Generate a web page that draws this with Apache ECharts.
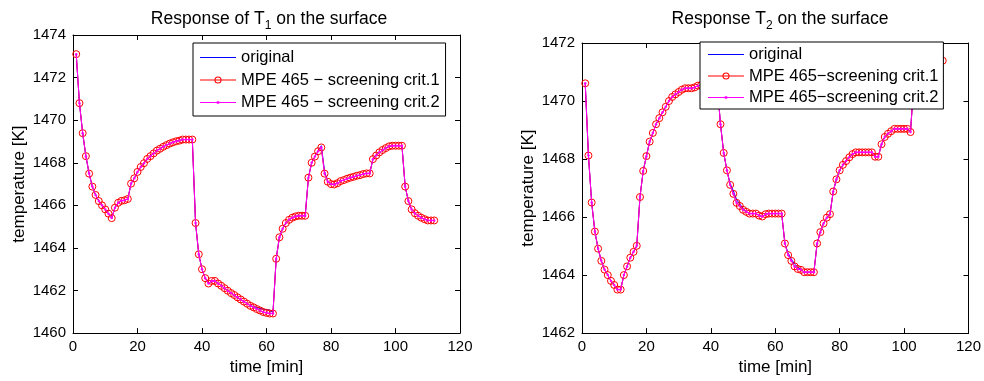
<!DOCTYPE html>
<html>
<head>
<meta charset="utf-8">
<script src="https://cdn.jsdelivr.net/npm/echarts@6/dist/echarts.min.js"></script>
<style>
html,body{margin:0;padding:0;background:#fff;}
#chart{width:984px;height:381px;}
</style>
</head>
<body>
<div id="chart"></div>
<script>
// time [min]
const timeMin = [1,2,3,4,5,6,7,8,9,10,11,12,13,14,15,16,17,18,19,20,21,22,23,24,25,26,27,28,29,30,
31,32,33,34,35,36,37,38,39,40,41,42,43,44,45,46,47,48,49,50,51,52,53,54,55,56,57,58,59,60,
61,62,63,64,65,66,67,68,69,70,71,72,73,74,75,76,77,78,79,80,81,82,83,84,85,86,87,88,89,90,
91,92,93,94,95,96,97,98,99,100,101,102,103,104,105,106,107,108,109,110,111,112];

// Response of T1
const t1Original = [1473.10,1470.80,1469.39,1468.31,1467.49,1466.88,1466.49,1466.20,1466.00,1465.81,1465.61,1465.40,
1465.89,1466.12,1466.21,1466.24,1466.30,1467.02,1467.27,1467.57,1467.80,1467.98,1468.18,1468.31,1468.44,1468.57,
1468.66,1468.75,1468.83,1468.90,1468.96,1469.01,1469.04,1469.09,1469.09,1469.09,1469.09,1465.17,1463.70,1463.00,
1462.58,1462.33,1462.45,1462.45,1462.33,1462.22,1462.11,1461.99,1461.88,1461.79,1461.68,1461.58,1461.48,1461.38,
1461.28,1461.25,1461.20,1461.16,1461.12,1461.10,1461.08,1460.95,1463.49,1464.50,1464.90,1465.17,1465.32,1465.42,
1465.48,1465.51,1465.51,1465.51,1467.30,1468.00,1468.29,1468.54,1468.80,1467.60,1467.11,1467.00,1466.98,1467.04,
1467.14,1467.19,1467.25,1467.30,1467.34,1467.39,1467.42,1467.47,1467.50,1467.50,1468.17,1468.34,1468.49,1468.60,
1468.69,1468.77,1468.80,1468.80,1468.80,1468.80,1466.88,1466.20,1465.81,1465.63,1465.51,1465.42,1465.35,1465.29,
1465.29,1465.29];
const t1Crit1 = [1473.10,1470.80,1469.39,1468.31,1467.49,1466.88,1466.49,1466.20,1466.00,1465.81,1465.61,1465.40,
1465.89,1466.12,1466.21,1466.24,1466.30,1467.02,1467.27,1467.57,1467.80,1467.98,1468.18,1468.31,1468.44,1468.57,
1468.66,1468.75,1468.83,1468.90,1468.96,1469.01,1469.04,1469.09,1469.09,1469.09,1469.09,1465.17,1463.70,1463.00,
1462.58,1462.33,1462.45,1462.45,1462.33,1462.22,1462.11,1461.99,1461.88,1461.79,1461.68,1461.58,1461.48,1461.38,
1461.28,1461.21,1461.13,1461.06,1460.99,1460.95,1460.92,1460.92,1463.49,1464.50,1464.90,1465.17,1465.32,1465.42,
1465.48,1465.51,1465.51,1465.51,1467.30,1468.00,1468.29,1468.54,1468.72,1467.49,1467.11,1467.00,1466.98,1467.04,
1467.14,1467.19,1467.25,1467.30,1467.34,1467.39,1467.42,1467.47,1467.50,1467.50,1468.17,1468.34,1468.49,1468.60,
1468.69,1468.77,1468.80,1468.80,1468.80,1468.80,1466.88,1466.20,1465.81,1465.63,1465.51,1465.42,1465.35,1465.29,
1465.29,1465.29];
const t1Crit2 = [1473.10,1470.80,1469.39,1468.31,1467.49,1466.88,1466.49,1466.20,1466.00,1465.81,1465.61,1465.40,
1465.89,1466.12,1466.21,1466.24,1466.30,1467.02,1467.27,1467.57,1467.80,1467.98,1468.18,1468.31,1468.44,1468.57,
1468.66,1468.75,1468.83,1468.90,1468.96,1469.01,1469.04,1469.09,1469.09,1469.09,1469.09,1465.17,1463.70,1463.00,
1462.58,1462.33,1462.45,1462.45,1462.33,1462.22,1462.11,1461.99,1461.88,1461.79,1461.68,1461.58,1461.48,1461.38,
1461.28,1461.21,1461.13,1461.06,1460.99,1460.95,1460.92,1460.92,1463.49,1464.50,1464.90,1465.17,1465.32,1465.42,
1465.48,1465.51,1465.51,1465.51,1467.30,1468.00,1468.29,1468.54,1468.72,1467.49,1467.11,1467.00,1466.98,1467.04,
1467.14,1467.19,1467.25,1467.30,1467.34,1467.39,1467.42,1467.47,1467.50,1467.50,1468.17,1468.34,1468.49,1468.60,
1468.69,1468.77,1468.80,1468.80,1468.80,1468.80,1466.88,1466.20,1465.81,1465.63,1465.51,1465.42,1465.35,1465.29,
1465.29,1465.29];

// Response T2
const t2Original = [1470.61,1468.12,1466.50,1465.50,1464.91,1464.49,1464.19,1464.00,1463.80,1463.66,1463.50,1463.50,
1464.00,1464.30,1464.60,1464.80,1465.01,1466.69,1467.59,1468.10,1468.60,1468.90,1469.20,1469.41,1469.61,1469.80,
1470.00,1470.14,1470.23,1470.31,1470.39,1470.44,1470.44,1470.44,1470.47,1470.53,1470.55,1470.58,1470.60,1470.60,
1470.60,1470.55,1469.20,1468.21,1467.61,1467.15,1466.90,1466.60,1466.45,1466.30,1466.18,1466.12,1466.12,1466.12,
1466.05,1466.02,1466.10,1466.12,1466.12,1466.12,1466.12,1466.12,1465.09,1464.75,1464.55,1464.38,1464.27,1464.20,
1464.10,1464.10,1464.10,1464.10,1465.09,1465.48,1465.78,1465.98,1466.10,1466.88,1467.30,1467.61,1467.80,1467.93,
1468.06,1468.17,1468.23,1468.23,1468.23,1468.23,1468.23,1468.23,1468.08,1468.08,1468.51,1468.76,1468.87,1468.96,
1469.04,1469.04,1469.04,1469.04,1469.04,1468.93,1470.60,1470.90,1471.05,1471.15,1471.22,1471.28,1471.32,1471.35,
1471.37,1471.39];
const t2Crit1 = [1470.61,1468.12,1466.50,1465.50,1464.91,1464.49,1464.19,1464.00,1463.80,1463.66,1463.50,1463.50,
1464.00,1464.30,1464.60,1464.80,1465.01,1466.69,1467.59,1468.10,1468.60,1468.90,1469.20,1469.41,1469.61,1469.80,
1470.00,1470.14,1470.23,1470.31,1470.39,1470.44,1470.44,1470.44,1470.47,1470.53,1470.55,1470.58,1470.60,1470.60,
1470.60,1470.55,1469.20,1468.21,1467.61,1467.11,1466.80,1466.49,1466.38,1466.25,1466.18,1466.12,1466.12,1466.12,
1466.05,1466.02,1466.10,1466.12,1466.12,1466.12,1466.12,1466.12,1465.09,1464.69,1464.49,1464.30,1464.21,1464.18,
1464.10,1464.10,1464.10,1464.10,1465.09,1465.48,1465.78,1465.98,1466.10,1466.88,1467.30,1467.61,1467.80,1467.93,
1468.06,1468.17,1468.23,1468.23,1468.23,1468.23,1468.23,1468.23,1468.08,1468.08,1468.51,1468.76,1468.87,1468.96,
1469.04,1469.04,1469.04,1469.04,1469.04,1468.93,1470.60,1470.90,1471.05,1471.15,1471.22,1471.28,1471.32,1471.35,
1471.37,1471.39];
const t2Crit2 = [1470.61,1468.12,1466.50,1465.50,1464.91,1464.49,1464.19,1464.00,1463.80,1463.66,1463.50,1463.50,
1464.00,1464.30,1464.60,1464.80,1465.01,1466.69,1467.59,1468.10,1468.60,1468.90,1469.20,1469.41,1469.61,1469.80,
1470.00,1470.14,1470.23,1470.31,1470.39,1470.44,1470.44,1470.44,1470.47,1470.53,1470.55,1470.58,1470.60,1470.60,
1470.60,1470.55,1469.20,1468.21,1467.61,1467.11,1466.80,1466.49,1466.38,1466.25,1466.18,1466.12,1466.12,1466.12,
1466.05,1466.02,1466.10,1466.12,1466.12,1466.12,1466.12,1466.12,1465.09,1464.69,1464.49,1464.30,1464.21,1464.18,
1464.10,1464.10,1464.10,1464.10,1465.09,1465.48,1465.78,1465.98,1466.10,1466.88,1467.30,1467.61,1467.80,1467.93,
1468.06,1468.17,1468.23,1468.23,1468.23,1468.23,1468.23,1468.23,1468.08,1468.08,1468.51,1468.76,1468.87,1468.96,
1469.04,1469.04,1469.04,1469.04,1469.04,1468.93,1470.60,1470.90,1471.05,1471.15,1471.22,1471.28,1471.32,1471.35,
1471.37,1471.39];

const xTicks = {min: 0, max: 120, interval: 20};
const y1Ticks = {min: 1460, max: 1474, interval: 2};
const y2Ticks = {min: 1462, max: 1472, interval: 2};

const names1 = ['original', 'MPE 465 \u2212 screening crit.1', 'MPE 465 \u2212 screening crit.2'];
const names2 = ['original', 'MPE 465\u2212screening crit.1', 'MPE 465\u2212screening crit.2'];

const FONT = 'Liberation Sans, Arial, Helvetica, sans-serif';

function pairs(ys) { return timeMin.map((t, i) => [t, ys[i]]); }

function axesFor(gi, yt) {
  const common = {
    gridIndex: gi, type: 'value', splitLine: {show: false},
    axisLine: {show: true, onZero: false, lineStyle: {color: '#000', width: 1}},
    axisTick: {show: true, inside: true, length: 5, lineStyle: {color: '#000', width: 1}},
  };
  const lbl = {fontFamily: FONT, fontSize: 15, color: '#000', formatter: v => String(v)};
  const xs = [
    Object.assign({}, common, xTicks, {position: 'bottom',
      name: 'time [min]', nameLocation: 'middle', nameGap: 22,
      nameTextStyle: {fontFamily: FONT, fontSize: 17, color: '#000'},
      axisLabel: Object.assign({margin: 6}, lbl)}),
    Object.assign({}, common, xTicks, {position: 'top', axisLabel: {show: false}})
  ];
  const ys = [
    Object.assign({}, common, yt, {position: 'left',
      name: 'temperature [K]', nameLocation: 'middle', nameGap: 45, nameRotate: 90,
      nameTextStyle: {fontFamily: FONT, fontSize: 17, color: '#000'},
      axisLabel: Object.assign({margin: 7}, lbl)}),
    Object.assign({}, common, yt, {position: 'right', axisLabel: {show: false}})
  ];
  return {xs, ys};
}

const a1 = axesFor(0, y1Ticks);
const a2 = axesFor(1, y2Ticks);

function seriesFor(gi, names, orig, c1, c2) {
  return [
    {name: names[0], type: 'line', xAxisIndex: gi * 2, yAxisIndex: gi * 2, data: pairs(orig),
     symbol: 'none', lineStyle: {color: '#0000ff', width: 1}, itemStyle: {color: '#0000ff'}, z: 2, animation: false},
    {name: names[1], type: 'line', xAxisIndex: gi * 2, yAxisIndex: gi * 2, data: pairs(c1),
     symbol: 'circle', symbolSize: 7, showSymbol: true,
     lineStyle: {color: '#ff0000', width: 1},
     itemStyle: {color: 'rgba(255,255,255,0)', borderColor: '#ff0000', borderWidth: 1}, z: 3, animation: false},
    {name: names[2], type: 'line', xAxisIndex: gi * 2, yAxisIndex: gi * 2, data: pairs(c2),
     symbol: 'circle', symbolSize: 2.5, showSymbol: true,
     lineStyle: {color: '#ff00ff', width: 1},
     itemStyle: {color: '#ff00ff'}, z: 4, animation: false}
  ];
}

// legend sample icons (36 x 14 box)
const BOX = 'M0,0M36,14';
const ICON_LINE = 'path://' + BOX + 'M0,6.4L36,6.4L36,7.6L0,7.6Z';
const ICON_CIRCLE = 'path://' + BOX +
  'M0,6.4L14.5,6.4L14.5,7.6L0,7.6Z' +
  'M21.5,6.4L36,6.4L36,7.6L21.5,7.6Z' +
  'M15.5,6.4L20.5,6.4L20.5,7.6L15.5,7.6Z' +
  'M21.6,7A3.6,3.6 0 1,0 14.4,7A3.6,3.6 0 1,0 21.6,7Z' +
  'M20.5,7A2.5,2.5 0 1,1 15.5,7A2.5,2.5 0 1,1 20.5,7Z';
const ICON_DOT = 'path://' + BOX + 'M0,6.4L36,6.4L36,7.6L0,7.6ZM16.8,5.8L19.2,5.8L19.2,8.2L16.8,8.2Z';

function legendData(names) {
  return [
    {name: names[0], icon: ICON_LINE, itemStyle: {color: '#0000ff', borderWidth: 0}},
    {name: names[1], icon: ICON_CIRCLE, itemStyle: {color: '#ff0000', borderWidth: 0}},
    {name: names[2], icon: ICON_DOT, itemStyle: {color: '#ff00ff', borderWidth: 0}}
  ];
}

const legendCommon = {
  orient: 'vertical', selectedMode: false, backgroundColor: '#fff', z: 20,
  borderColor: '#000', borderWidth: 1, borderRadius: 0,
  itemWidth: 36, itemHeight: 14,
  textStyle: {fontFamily: FONT, fontSize: 16.5, color: '#000', lineHeight: 16}
};

const titleRich = {
  a: {fontFamily: FONT, fontSize: 17.5, fontWeight: 'normal', color: '#000'},
  s: {fontFamily: FONT, fontSize: 12, fontWeight: 'normal', color: '#000', padding: [13, 0, 0, 0]}
};

const option = {
  animation: false,
  backgroundColor: '#fff',
  title: [
    {text: '{a|Response of T}{s|1}{a| on the surface}', left: 264, top: 2, textAlign: 'center',
     textStyle: {fontWeight: 'normal', rich: titleRich}},
    {text: '{a|Response T}{s|2}{a| on the surface}', left: 775, top: 2, textAlign: 'center',
     textStyle: {fontWeight: 'normal', rich: titleRich}}
  ],
  legend: [
    Object.assign({}, legendCommon, {data: legendData(names1), left: 193, top: 43, padding: [6, 6, 5, 7], itemGap: 5.5}),
    Object.assign({}, legendCommon, {data: legendData(names2), left: 700, top: 42, padding: [4, 5, 3, 8], itemGap: 4.5})
  ],
  grid: [
    {left: 73, top: 35, width: 387, height: 305, containLabel: false},
    {left: 582, top: 43, width: 387, height: 297, containLabel: false}
  ],
  xAxis: [...a1.xs, ...a2.xs],
  yAxis: [...a1.ys, ...a2.ys],
  series: [
    ...seriesFor(0, names1, t1Original, t1Crit1, t1Crit2),
    ...seriesFor(1, names2, t2Original, t2Crit1, t2Crit2)
  ]
};

const chart = echarts.init(document.getElementById('chart'), null, {renderer: 'canvas'});
chart.setOption(option);
</script>
</body>
</html>
